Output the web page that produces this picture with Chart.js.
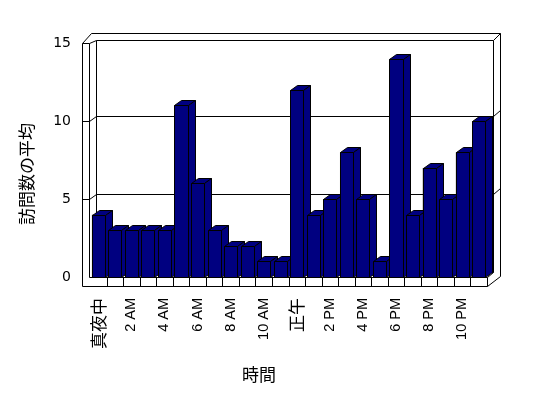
<!DOCTYPE html>
<html><head><meta charset="utf-8">
<script src="https://cdn.jsdelivr.net/npm/chart.js@4.4.1/dist/chart.umd.min.js"></script>
<style>html,body{margin:0;padding:0;background:#fff;overflow:hidden}canvas{display:block}</style>
</head><body>
<canvas id="c" width="548" height="398"></canvas>
<script>
// ---- data ----
const categories = ['真夜中','1 AM','2 AM','3 AM','4 AM','5 AM','6 AM','7 AM','8 AM','9 AM','10 AM','11 AM',
                    '正午','1 PM','2 PM','3 PM','4 PM','5 PM','6 PM','7 PM','8 PM','9 PM','10 PM','11 PM'];
const tickLabels = ['真夜中','','2 AM','','4 AM','','6 AM','','8 AM','','10 AM','',
                    '正午','','2 PM','','4 PM','','6 PM','','8 PM','','10 PM',''];
const visits = [4,3,3,3,3,11,6,3,2,2,1,1,12,4,5,8,5,1,14,4,7,5,8,10];
const yTicks = [0,5,10,15];
const yTitle = '訪問数の平均';
const xTitle = '時間';

const NAVY = '#000080';
const DX = 7, DY = -5;
const LATIN = "'Liberation Sans', Arial, 'Noto Sans CJK JP', sans-serif";
const DIGITS = "'DejaVu Sans', 'Liberation Sans', sans-serif";
const CJK = "'Noto Sans CJK JP', 'Liberation Sans', sans-serif";

function seg(ctx, pts){
  ctx.beginPath();
  ctx.moveTo(pts[0][0], pts[0][1]);
  for (let i=1;i<pts.length;i++) ctx.lineTo(pts[i][0], pts[i][1]);
  ctx.stroke();
}
function poly(ctx, pts){
  ctx.beginPath();
  ctx.moveTo(pts[0][0], pts[0][1]);
  for (let i=1;i<pts.length;i++) ctx.lineTo(pts[i][0], pts[i][1]);
  ctx.closePath();
  ctx.fill(); ctx.stroke();
}

const walls = {
  id: 'walls',
  beforeDatasetsDraw(chart){
    const {ctx, chartArea:a, scales:{x, y}} = chart;
    const h = 0.5;
    const L = Math.round(a.left), R = Math.round(a.right);
    const B = Math.round(y.getPixelForValue(0));
    const T = Math.round(y.getPixelForValue(yTicks[yTicks.length-1]));
    const wl = L-8+h, fl = L-1+h, fb = B+9+h;
    const OT = T-10+h, BT = T-3+h, BL = L+6+h, BR = R+6+h, OR = R+13+h;
    const Rh = R+h, Bh = B+h, Th = T+h;
    ctx.save();
    ctx.fillStyle = '#fff';
    ctx.strokeStyle = '#000';
    ctx.lineWidth = 1;
    seg(ctx, [[wl,Th],[wl+9,OT],[OR,OT]]);
    seg(ctx, [[fl,Th],[BL,BT],[BR,BT],[OR,OT]]);
    seg(ctx, [[BL,BT],[BL,Bh-5]]);
    seg(ctx, [[BR,BT],[BR,Bh-5]]);
    seg(ctx, [[OR,OT],[OR,Bh-1],[Rh,fb]]);
    seg(ctx, [[wl,Th],[fl,Th]]);
    seg(ctx, [[wl,Th],[wl,fb],[Rh,fb],[Rh,Bh]]);
    seg(ctx, [[fl,Th],[fl,Bh],[Rh,Bh],[BR,Bh-5]]);
    seg(ctx, [[BL,Bh-5],[BR,Bh-5]]);
    const n = categories.length;
    const cw = (a.right - a.left)/n;
    for (let k=1;k<n;k++){
      const xx = Math.round(a.left + k*cw)+h;
      seg(ctx, [[xx,Bh],[xx,fb]]);
    }
    yTicks.forEach(v => {
      if (v===0 || v===yTicks[yTicks.length-1]) return;
      const yf = Math.round(y.getPixelForValue(v))+h;
      seg(ctx, [[wl,yf],[fl,yf],[BL,yf-5],[BR,yf-5],[OR,yf-11]]);
    });
    ctx.restore();
  },
  afterDatasetsDraw(chart){
    const {ctx} = chart;
    const meta = chart.getDatasetMeta(0);
    ctx.save();
    ctx.fillStyle = NAVY;
    ctx.strokeStyle = '#000';
    ctx.lineWidth = 1;
    meta.data.forEach(bar => {
      const p = bar.getProps(['x','y','base','width'], true);
      const l = Math.round(p.x - p.width/2)+0.5, r = Math.round(p.x + p.width/2)+0.5;
      const t = Math.round(p.y)+0.5, b = Math.round(p.base)+0.5;
      poly(ctx, [[l,t],[r,t],[r+DX,t+DY],[l+DX,t+DY]]);
      poly(ctx, [[r,t],[r+DX,t+DY],[r+DX,b+DY],[r,b]]);
      poly(ctx, [[l,t],[r,t],[r,b],[l,b]]);
    });
    ctx.restore();
  },
  afterDraw(chart){
    const {ctx} = chart;
    ctx.save();
    ctx.fillStyle = '#000';
    ctx.font = "17px " + CJK;
    ctx.textAlign = 'center';
    ctx.textBaseline = 'middle';
    ctx.fillText(xTitle, 259, 375);
    ctx.translate(27, 174);
    ctx.rotate(-Math.PI/2);
    ctx.fillText(yTitle, 0, 0);
    ctx.restore();
  }
};

new Chart(document.getElementById('c'), {
  type: 'bar',
  data: {
    labels: categories,
    datasets: [{
      label: yTitle,
      data: visits,
      backgroundColor: NAVY,
      borderColor: '#000',
      borderWidth: 1,
      barPercentage: 0.79,
      categoryPercentage: 1.0
    }]
  },
  options: {
    responsive: false,
    animation: false,
    devicePixelRatio: 1,
    layout: {padding: {left: 0, right: 61, top: 43, bottom: 0}},
    plugins: {legend: {display: false}, tooltip: {enabled: false}, title: {display: false}},
    scales: {
      x: {
        grid: {display: false, drawTicks: false},
        border: {display: false},
        ticks: {
          autoSkip: false, maxRotation: 90, minRotation: 90, padding: 21, color: '#000',
          callback: (v, i) => tickLabels[i],
          font: ctx => (ctx.index === 0 || ctx.index === 12) ? {family: CJK, size: 17} : {family: LATIN, size: 14.5}
        },
        afterFit: s => { s.height = 121; }
      },
      y: {
        min: yTicks[0], max: yTicks[yTicks.length-1],
        grid: {display: false, drawTicks: false},
        border: {display: false},
        ticks: {stepSize: 5, padding: 19, color: '#000', font: {family: DIGITS, size: 14}},
        afterFit: s => { s.width = 90; }
      }
    }
  },
  plugins: [walls]
});
</script>
</body></html>
